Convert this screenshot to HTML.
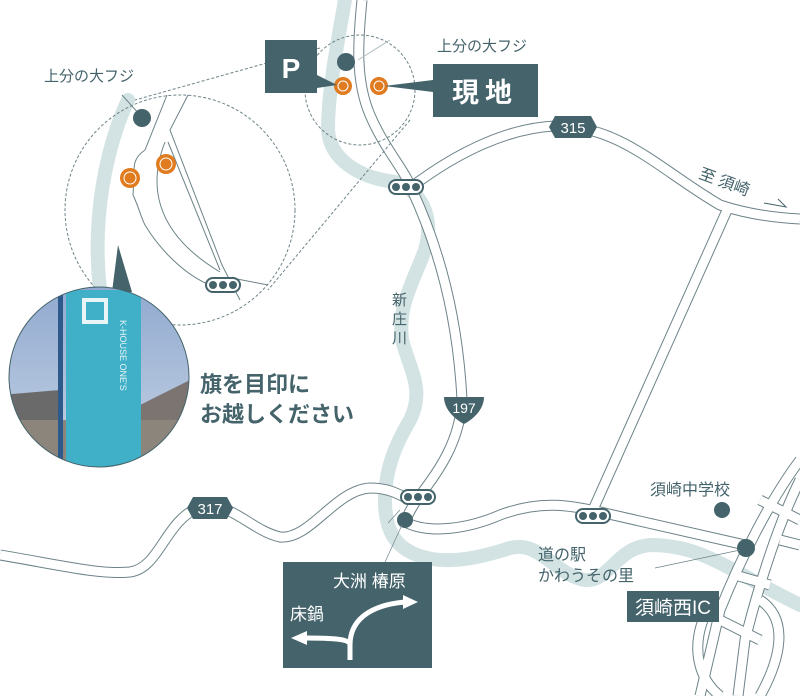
<!DOCTYPE html>
<html><head><meta charset="utf-8"><style>
html,body{margin:0;padding:0;background:#fff;}
svg{display:block;}
text{font-family:"Liberation Sans","Noto Sans CJK JP",sans-serif;}
</style></head><body>
<svg width="800" height="696" viewBox="0 0 800 696" xmlns="http://www.w3.org/2000/svg">
<defs>
<clipPath id="pc"><circle cx="99" cy="377" r="90"/></clipPath>
<linearGradient id="sky" x1="0" y1="0" x2="0" y2="1"><stop offset="0" stop-color="#8fa8cf"/><stop offset="1" stop-color="#c9d6e6"/></linearGradient>
</defs>
<!-- rivers -->
<g fill="none" stroke="#d3e3e3" stroke-linecap="round">
<path d="M345,0 C338,40 328,90 328,130 C330,160 360,178 395,182 C420,190 435,215 425,250 C412,285 398,305 402,340 C410,370 425,390 410,420 C395,445 385,470 385,500 C385,530 395,548 420,556 C450,566 485,556 510,548 C540,540 555,575 585,580 C610,582 615,548 650,545 C700,545 720,565 800,605" stroke-width="14"/>
<path d="M128,100 C105,150 92,220 100,290" stroke-width="14"/>
</g>
<!-- roads -->
<g fill="none" stroke-linejoin="round">
<g stroke="#6d8388" stroke-width="11">
<path id="r197" d="M362,0 C358,40 355,80 370,115 C385,150 405,170 412,190 C440,250 458,320 462,400 C460,440 440,470 418,498 C410,510 405,520 405,525"/>
<path d="M410,188 C460,150 510,128 555,126 C620,125 660,170 720,205 C750,215 780,218 800,219"/>
<path d="M728,208 L592,512"/>
<path d="M405,522 C430,535 470,528 500,515 C540,500 570,505 600,512 L745,545"/>
<path d="M0,555 C60,565 100,575 130,572 C160,568 165,520 200,507 C230,500 250,530 280,537 C310,540 335,490 370,488 C390,488 400,495 410,500"/>
<path d="M800,460 C770,500 740,560 720,610 L700,696"/>
<path d="M800,480 C780,520 760,580 745,640 L738,696"/>
<path d="M760,500 L800,520 M780,540 L800,545 M735,575 L770,585 M720,620 L760,640"/>
<path d="M705,615 C690,650 700,680 720,696 M760,600 C790,620 780,660 760,696"/>
</g>
<g stroke="#fff" stroke-width="9">
<path d="M362,0 C358,40 355,80 370,115 C385,150 405,170 412,190 C440,250 458,320 462,400 C460,440 440,470 418,498 C410,510 405,520 405,525"/>
<path d="M410,188 C460,150 510,128 555,126 C620,125 660,170 720,205 C750,215 780,218 800,219"/>
<path d="M728,208 L592,512"/>
<path d="M405,522 C430,535 470,528 500,515 C540,500 570,505 600,512 L745,545"/>
<path d="M0,555 C60,565 100,575 130,572 C160,568 165,520 200,507 C230,500 250,530 280,537 C310,540 335,490 370,488 C390,488 400,495 410,500"/>
<path d="M800,460 C770,500 740,560 720,610 L700,696"/>
<path d="M800,480 C780,520 760,580 745,640 L738,696"/>
<path d="M760,500 L800,520 M780,540 L800,545 M735,575 L770,585 M720,620 L760,640"/>
<path d="M705,615 C690,650 700,680 720,696 M760,600 C790,620 780,660 760,696"/>
</g>
</g>
<!-- zoom circles -->
<g fill="none" stroke="#6d8388" stroke-width="1" stroke-dasharray="3,2">
<circle cx="360" cy="90" r="55"/>
<circle cx="180" cy="210" r="115"/>
<line x1="320" y1="48" x2="135" y2="100"/>
<line x1="410" y1="120" x2="268" y2="290"/>
</g>
<!-- zoom detail roads -->
<g fill="none" stroke="#6d8388" stroke-width="1">
<path d="M167,95 L145,150 C130,160 135,170 133,195 C140,210 140,215 145,225 C160,250 185,275 210,285"/>
<path d="M188,95 L170,130 L222,265 L240,300"/>
<path d="M165,142 C150,180 150,230 220,272"/>
<path d="M168,142 L220,270"/>
<path d="M232,278 L268,285"/>
<line x1="122" y1="95" x2="140" y2="115"/>
<line x1="390" y1="40" x2="358" y2="60" stroke="#b0c0c2"/>
</g>
<!-- photo -->
<path d="M118,245 L132,292 L112,292 Z" fill="#44636b"/>
<g clip-path="url(#pc)">
<rect x="0" y="280" width="200" height="200" fill="url(#sky)"/>
<path d="M0,395 L60,390 L60,470 L0,470 Z" fill="#6a6a6a"/>
<path d="M130,410 L190,380 L190,470 L130,470 Z" fill="#7b7470"/>
<rect x="0" y="420" width="200" height="50" fill="#8b857c"/>
<rect x="58" y="288" width="5" height="180" fill="#2d5a8a"/>
<rect x="66" y="290" width="75" height="180" fill="#3fb0c8"/>
<rect x="84" y="300" width="22" height="22" fill="none" stroke="#e8f4f6" stroke-width="4"/>
<text x="0" y="0" transform="translate(120,320) rotate(90)" font-size="9" fill="#e8f4f6">K-HOUSE ONE'S</text>
</g>
<circle cx="99" cy="377" r="90" fill="none" stroke="#44636b" stroke-width="1"/>
<!-- dots -->
<g fill="#44636b"><circle cx="346" cy="62" r="9"/><circle cx="142" cy="118" r="9"/><circle cx="405" cy="520" r="8"/><circle cx="722" cy="510" r="8"/><circle cx="746" cy="548" r="9"/></g>
<g fill="#e07b1f"><circle cx="343" cy="86" r="9"/><circle cx="379" cy="86" r="9"/><circle cx="130" cy="178" r="10"/><circle cx="166" cy="164" r="10"/></g>
<g fill="none" stroke="#fff" stroke-width="1"><circle cx="343" cy="86" r="5"/><circle cx="379" cy="86" r="5"/><circle cx="130" cy="178" r="6"/><circle cx="166" cy="164" r="6"/></g>
<!-- signals -->
<g>
<rect x="389" y="180" width="34" height="14" rx="7" fill="#fff" stroke="#44636b" stroke-width="2"/>
<rect x="206" y="278" width="34" height="14" rx="7" fill="#fff" stroke="#44636b" stroke-width="2"/>
<rect x="401" y="490" width="34" height="14" rx="7" fill="#fff" stroke="#44636b" stroke-width="2"/>
<rect x="576" y="509" width="34" height="14" rx="7" fill="#fff" stroke="#44636b" stroke-width="2"/>
<g fill="#44636b">
<circle cx="396" cy="187" r="4"/><circle cx="406" cy="187" r="4"/><circle cx="416" cy="187" r="4"/>
<circle cx="213" cy="285" r="4"/><circle cx="223" cy="285" r="4"/><circle cx="233" cy="285" r="4"/>
<circle cx="408" cy="497" r="4"/><circle cx="418" cy="497" r="4"/><circle cx="428" cy="497" r="4"/>
<circle cx="583" cy="516" r="4"/><circle cx="593" cy="516" r="4"/><circle cx="603" cy="516" r="4"/>
</g></g>
<!-- badges -->
<polygon points="555,116 591,116 597,127 591,138 555,138 549,127" fill="#44636b"/>
<text x="573" y="133" font-size="15" fill="#fff" text-anchor="middle">315</text>
<polygon points="193,497 227,497 233,508 227,519 193,519 187,508" fill="#44636b"/>
<text x="210" y="514" font-size="15" fill="#fff" text-anchor="middle">317</text>
<path d="M444,397 L484,397 C484,410 472,420 464,424 C456,420 444,410 444,397 Z" fill="#44636b"/>
<text x="464" y="413" font-size="14" fill="#fff" text-anchor="middle">197</text>
<!-- label boxes -->
<rect x="265" y="40" width="52" height="53" fill="#44636b"/>
<path d="M317,75 L337,85 L317,88 Z" fill="#44636b"/>
<text x="291" y="78" font-size="28" font-weight="bold" fill="#fff" text-anchor="middle">P</text>
<rect x="433" y="64" width="105" height="53" fill="#44636b"/>
<path d="M433,80 L384,86 L433,92 Z" fill="#44636b"/>
<text x="485" y="102" font-size="27" font-weight="bold" fill="#fff" text-anchor="middle" letter-spacing="6">現地</text>
<rect x="627" y="591" width="92" height="31" fill="#44636b"/>
<text x="673" y="614" font-size="19" fill="#fff" text-anchor="middle">須崎西IC</text>
<!-- sign -->
<rect x="283" y="562" width="149" height="106" fill="#44636b"/>
<text x="333" y="587" font-size="17" fill="#fff">大洲 椿原</text>
<text x="290" y="620" font-size="17" fill="#fff">床鍋</text>
<path d="M350,660 L350,645 C350,620 370,605 405,602" fill="none" stroke="#fff" stroke-width="5"/>
<path d="M403,595 L418,602 L403,609 Z" fill="#fff"/>
<path d="M350,645 C350,640 340,638 305,638" fill="none" stroke="#fff" stroke-width="5"/>
<path d="M307,631 L291,638 L307,645 Z" fill="#fff"/>
<!-- texts -->
<g fill="#44636b">
<text x="437" y="51" font-size="15">上分の大フジ</text>
<text x="44" y="81" font-size="15">上分の大フジ</text>
<text x="200" y="392" font-size="22" font-weight="bold">旗を目印に</text>
<text x="200" y="422" font-size="22" font-weight="bold">お越しください</text>
<text x="392" y="305" font-size="15">新</text>
<text x="392" y="324" font-size="15">庄</text>
<text x="392" y="343" font-size="15">川</text>
<text x="650" y="495" font-size="16">須崎中学校</text>
<text x="538" y="560" font-size="16">道の駅</text>
<text x="538" y="581" font-size="16">かわうその里</text>
<text transform="translate(698,178) rotate(20)" font-size="16">至 須崎</text>
</g>
<path d="M764,203 L786,207 L778,199" fill="none" stroke="#44636b" stroke-width="1"/>
<line x1="655" y1="568" x2="740" y2="550" stroke="#6d8388" stroke-width="0.7"/>
<line x1="388" y1="523" x2="400" y2="510" stroke="#6d8388" stroke-width="0.7"/>
<line x1="385" y1="562" x2="402" y2="525" stroke="#6d8388" stroke-width="0.7"/>
</svg>
</body></html>
